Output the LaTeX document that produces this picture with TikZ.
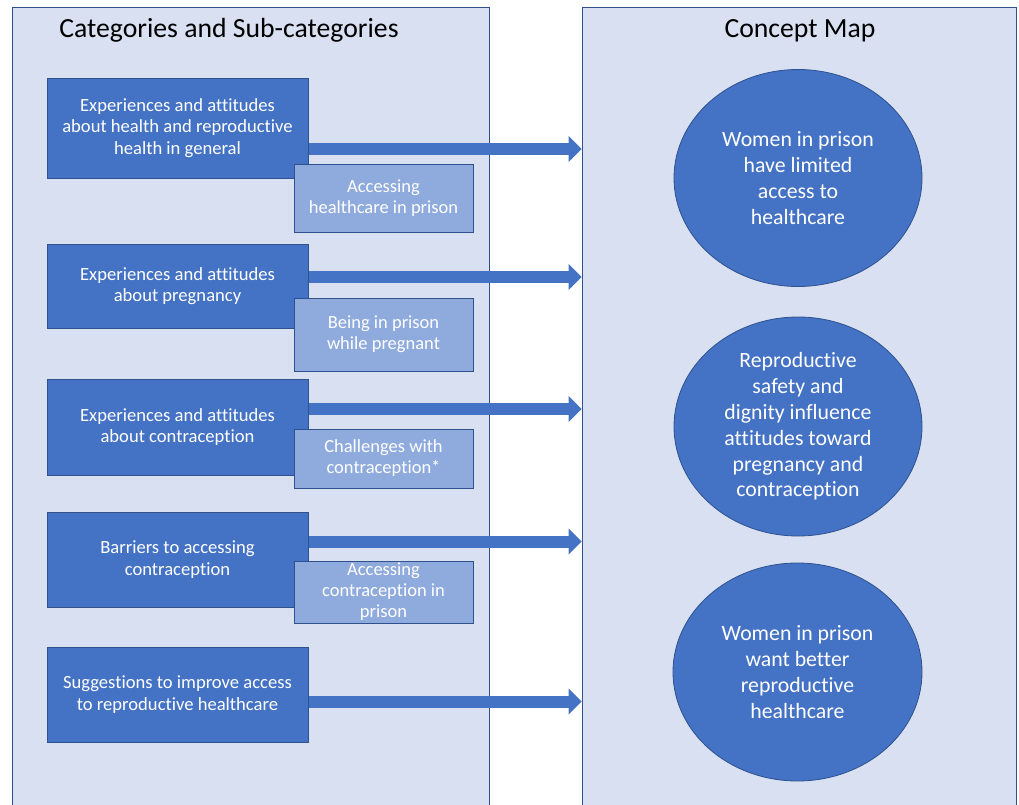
\documentclass[tikz,border=0pt]{standalone}
\usepackage{fontspec}
\setmainfont{Carlito}[Ligatures=NoCommon]
\usetikzlibrary{shapes.geometric,arrows.meta}
\definecolor{panelfill}{RGB}{216,224,241}
\definecolor{edgeblue}{RGB}{47,82,143}
\definecolor{mainblue}{RGB}{68,114,196}
\definecolor{subblue}{RGB}{143,170,220}
\tikzset{
  panel/.style={draw=edgeblue,line width=0.8pt,fill=panelfill,rectangle,inner sep=0pt},
  title/.style={anchor=base,font=\fontsize{27.7}{32}\selectfont,text=black},
  catbox/.style={draw=edgeblue,line width=0.8pt,fill=mainblue,rectangle,inner sep=0pt,
    minimum width=261pt,text=white,align=center,font=\fontsize{18.6}{21.7}\selectfont},
  subbox/.style={draw=edgeblue,line width=0.8pt,fill=subblue,rectangle,inner sep=0pt,
    minimum width=179pt,text=white,align=center,font=\fontsize{18.5}{21}\selectfont},
  concept/.style={draw=edgeblue,line width=0.8pt,fill=mainblue,ellipse,inner sep=0pt,
    text=white,align=center,font=\fontsize{21.8}{25.8}\selectfont},
  bigarrow/.style={draw=mainblue,line width=12pt,-{Triangle[length=13pt,width=25pt]}}
}
\begin{document}
\begin{tikzpicture}[x=1pt,y=-1pt]
\useasboundingbox (0,0) rectangle (1019,805);
\clip (0,0) rectangle (1019,805);
\fill[white] (0,0) rectangle (1019,805);
% panels
\node[panel,minimum width=477pt,minimum height=803pt] (lp) at (250.5,408.5) {};
\node[panel,minimum width=434pt,minimum height=803pt] (rp) at (799,408.5) {};
\node[title] (t1) at (229,38) {Categories and Sub-categories};
\node[title] (t2) at (800,38) {Concept Map};
% arrow levels
\coordinate (y1) at (0,149);
\coordinate (y2) at (0,277);
\coordinate (y3) at (0,409);
\coordinate (y4) at (0,541.5);
\coordinate (y5) at (0,701.5);
\coordinate (xs) at (300,0);
\draw[bigarrow] (xs |- y1) -- (rp.west |- y1);
\draw[bigarrow] (xs |- y2) -- (rp.west |- y2);
\draw[bigarrow] (xs |- y3) -- (rp.west |- y3);
\draw[bigarrow] (xs |- y4) -- (rp.west |- y4);
\draw[bigarrow] (xs |- y5) -- (rp.west |- y5);
% category boxes
\node[catbox,minimum height=100pt] (b1) at (177.5,128) {Experiences and attitudes\\about health and reproductive\\health in general};
\node[catbox,minimum height=84pt] (b2) at (177.5,286) {Experiences and attitudes\\about pregnancy};
\node[catbox,minimum height=96pt] (b3) at (177.5,427) {Experiences and attitudes\\about contraception};
\node[catbox,minimum height=95pt] (b4) at (177.5,559.5) {Barriers to accessing\\contraception};
\node[catbox,minimum height=95pt] (b5) at (177.5,694.5) {Suggestions to improve access\\to reproductive healthcare};
% sub-category boxes
\node[subbox,minimum height=68pt] (s1) at (383.5,198) {Accessing\\healthcare in prison};
\node[subbox,minimum height=73pt] (s2) at (383.5,334.5) {Being in prison\\while pregnant};
\node[subbox,minimum height=59pt] (s3) at (383.5,458.5) {Challenges with\\contraception*};
\node[subbox,minimum height=62pt] (s4) at (383.5,592) {Accessing\\contraception in\\prison};
% concepts
\node[concept,minimum width=248pt,minimum height=217pt] (c1) at (798,178) {Women in prison\\have limited\\access to\\healthcare};
\node[concept,minimum width=248pt,minimum height=219pt] (c2) at (798,426.5) {Reproductive\\safety and\\dignity influence\\attitudes toward\\pregnancy and\\contraception};
\node[concept,minimum width=249pt,minimum height=218pt] (c3) at (797.5,672) {Women in prison\\want better\\reproductive\\healthcare};
\end{tikzpicture}
\end{document}
